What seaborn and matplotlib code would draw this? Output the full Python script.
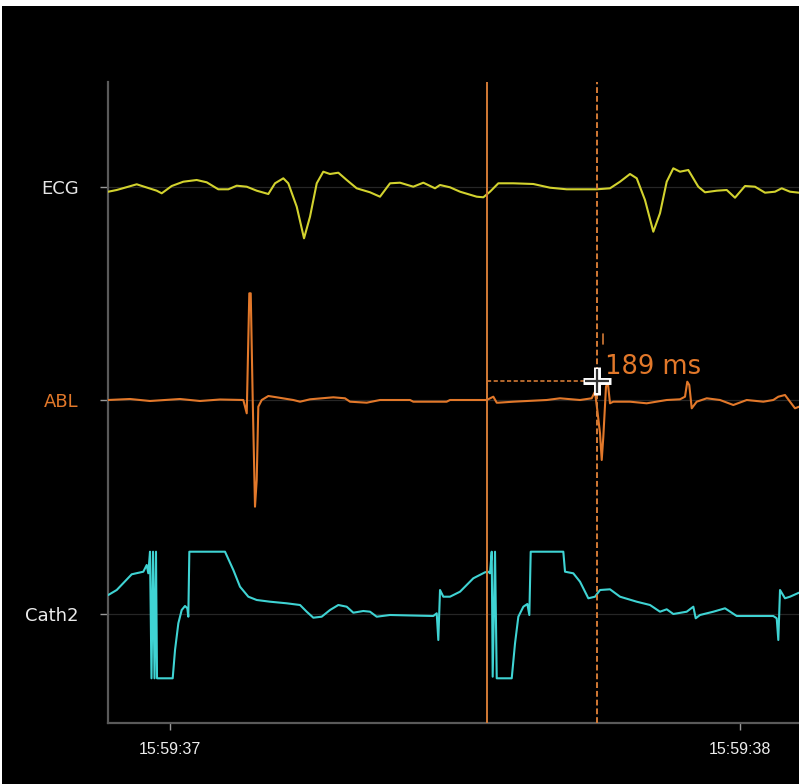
import numpy as np
import pandas as pd
import matplotlib
matplotlib.use("Agg")
import matplotlib.pyplot as plt
from matplotlib.patches import Rectangle
import seaborn as sns

# ---------------- data (time in ms after 15:59:37, amplitude in display units) -------------
ecg_t = [-108.3, -93.5, -58.4, -23.3, -14.6, 3.0, 23.3, 46.8, 64.4, 84.7, 102.3, 117.0, 134.6,
         152.1, 172.5, 184.2, 198.8, 207.5, 222.3, 235.1, 245.6, 257.4, 268.9, 280.7, 295.3,
         310.0, 327.5, 350.9, 368.4, 386.0, 403.5, 426.8, 444.4, 464.9, 473.7, 491.2, 508.8,
         538.1, 549.7, 561.4, 576.0, 602.3, 637.4, 666.7, 696.0, 748.6, 771.9, 789.5, 807.0,
         818.8, 833.3, 847.9, 859.6, 871.4, 883.0, 894.7, 909.3, 926.8, 938.6, 959.1, 976.7,
         991.2, 1008.8, 1026.3, 1043.9, 1061.4, 1073.2, 1087.7, 1103.5]
ecg_v = [-4.7, -3, 2.7, -3.7, -6.3, 1, 5.3, 7, 4.7, -2.3, -2.3, 1.3, 0.3,
         -3.7, -7, 3.7, 8.7, 3.7, -19.7, -51.3, -29.7, 3.7, 15.3, 13, 14.3,
         7, -1.3, -5.3, -9.7, 3.7, 4.3, 0.3, 4.3, -1.3, 2, -0.3, -4.7,
         -9.7, -10.3, -4.7, 3.7, 3.7, 3, -0.7, -2.3, -2.3, -1.3, 5.3, 13,
         8.7, -13, -44.7, -26.3, 5.3, 18.7, 15.3, 17, 0.3, -5.3, -3.7, -3,
         -10.7, 1, 0.3, -5.7, -4.7, -1.3, -4.7, -5.7]

abl_t = [-108.8, -70.2, -35.1, 17.5, 52.6, 87.7, 128.6, 134.6, 139.1, 141.6, 145.1, 149.1,
         152.1, 154.9, 160.9, 172.5, 187.2, 216.3, 228.1, 245.6, 286.5, 307.0, 315.8, 345.1,
         368.4, 421.1, 426.8, 485.3, 491.2, 555.6, 567.2, 573.2, 576.0, 602.3, 660.9, 684.2,
         719.3, 739.8, 745.6, 749.6, 754.4, 757.4, 760.2, 764.9, 767.9, 771.9, 777.7, 807.0,
         836.3, 871.4, 894.7, 903.5, 907.5, 911.0, 915.3, 924.0, 941.6, 964.9, 988.3, 1011.8,
         1040.9, 1058.4, 1067.2, 1078.9, 1087.7, 1096.5, 1103.5]
abl_v = [0, 1, -1, 1, -1, 0.5, 0, -13.3, 106.7, 106.7, 0, -106.7,
         -80, -6.7, 0, 4, 2.7, 0, -1.7, 0.7, 2.7, 1.7, -1.7, -2.7,
         0, 0, -1.7, -1.7, 0, 0, 3.3, -2.7, -2.7, -1.7, 0, 1.7,
         0, 1.7, 8.3, -10, -33.3, -60, -36.7, 13.3, 18.3, -3.3, -1.7, -1.7,
         -3.3, 0, 0.7, 3.3, 18.3, 15, -8.3, -1.7, 1.7, 0, -5, 0,
         -1.7, 0, 3.3, 5, -1.7, -8.3, -6.7]

cath_t = [-108.3, -93.5, -67.2, -46.8, -40.9, -38.1, -35.1, -32.5, -29.8, -27.2, -24.6, -22.8,
          4.7, 8.8, 14.6, 20.5, 26.3, 30.4, 32.1, 33.9, 96.5, 111.1, 122.8, 137.4, 152.1,
          175.4, 204.7, 228.1, 239.8, 251.4, 266.1, 280.7, 295.3, 310.0, 321.6, 339.1, 350.9,
          362.6, 386.0, 461.9, 467.9, 470.7, 473.7, 479.5, 491.2, 508.8, 532.1, 552.6, 558.4,
          561.4, 564.4, 566.1, 570.2, 573.2, 599.5, 605.3, 611.1, 619.9, 626.9, 630.4, 632.8,
          690.0, 693.0, 707.5, 719.3, 733.9, 745.6, 754.4, 771.9, 789.5, 818.8, 842.1, 859.6,
          871.4, 883.0, 906.5, 918.1, 922.3, 929.8, 953.2, 973.7, 994.2, 1058.4, 1064.4,
          1067.2, 1070.2, 1078.9, 1087.7, 1103.5]
cath_v = [19, 24, 39.7, 42.3, 49, 40.7, 62.3, -64.3, 62.3, -64.3, 62.3, -64.3,
          -64.3, -36, -9.3, 4, 8, 5.7, -2.7, 62.3, 62.3, 44, 27.3, 17.3, 14,
          12.3, 10.7, 9, 2.3, -3.7, -2.7, 4, 9, 7.3, 1.3, 3, 2.3,
          -2.7, -1, -2, 0.7, -26, 24, 17.3, 17.3, 22.3, 35.7, 41.7, 42.3,
          40.7, 62.3, -62.7, 62.3, -64.3, -64.3, -29.3, -2.7, 7.3, 10, -1, 62.3,
          62.3, 42.3, 40.7, 32.3, 15.7, 17.3, 24, 24.7, 17.3, 12.3, 9, 2.3,
          4.7, 0, 2.3, 7.3, -4.3, -1, 2.3, 5.7, -2, -2, -4.3,
          -26, 24, 15.7, 17.3, 21.3]

channels = ["ECG", "ABL", "Cath2"]
offsets = [536, 323, 109]
colors = ["#d2d22e", "#e2782a", "#3fd3d3"]
label_colors = ["#e6e6e6", "#e2782a", "#ececec"]
tick_pos = [0, 1000]
tick_labels = ["15:59:37", "15:59:38"]
cursor_a = 556
cursor_b = 749
measure_text = "189 ms"

# ---------------- figure -------------
sns.set_style("dark")
plt.rcParams["font.family"] = ["DejaVu Sans"]

fig = plt.figure(figsize=(7.99, 7.84), dpi=100, facecolor="white")
fig.patches.append(Rectangle((2 / 799, 0), 1, 1 - 6 / 784, transform=fig.transFigure,
                             facecolor="black", edgecolor="none", zorder=-10))
ax = fig.add_axes([108 / 799, 61 / 784, 691 / 799, 641 / 784])
ax.set_facecolor("black")

for i, (name, t, v) in enumerate([("ECG", ecg_t, ecg_v), ("ABL", abl_t, abl_v),
                                   ("Cath2", cath_t, cath_v)]):
    df = pd.DataFrame({"t": t, "v": np.array(v) + offsets[i]})
    sns.lineplot(data=df, x="t", y="v", ax=ax, color=colors[i], lw=1.5,
                 estimator=None, sort=False, zorder=3)
    ax.axhline(offsets[i], color="#262626", lw=0.9, zorder=1)

# cursors
ax.axvline(cursor_a, color="#d37a35", lw=1.4, zorder=4)
ax.axvline(cursor_b, color="#d37a35", lw=1.4, ls=(0, (3, 1.5)), zorder=4)
ymark = offsets[1] + 19
ax.plot([cursor_a, cursor_b], [ymark, ymark], color="#d37a35", lw=1.2,
        ls=(0, (2.5, 1.5)), zorder=4)
ax.plot([759.6, 759.6], [offsets[1] + 56, offsets[1] + 66], color="#d37a35", lw=1.2, zorder=4)
ax.plot([cursor_b], [ymark], marker="+", ms=20, mew=5, color="white", zorder=6)
ax.plot([cursor_b], [ymark], marker="+", ms=17, mew=1.6, color="#333333", zorder=7)
ax.text(763, ymark + 14, measure_text, color="#e2782a", fontsize=18.5, va="center",
        ha="left", zorder=6)

ax.set_xlim(-108.8, 1103.5)
ax.set_ylim(0, 641)
ax.set_xticks(tick_pos)
ax.set_xticklabels(tick_labels, family="Liberation Sans")
ax.set_yticks(offsets)
ax.set_yticklabels(channels)
for lbl, c in zip(ax.get_yticklabels(), label_colors):
    lbl.set_color(c)
ax.tick_params(axis="y", length=6, width=1, color="#9a9a9a", pad=15, labelsize=13, left=True)
ax.tick_params(axis="x", length=5, width=1, color="#9a9a9a", pad=9, labelsize=11.5,
               labelcolor="#ededed", bottom=True)
ax.set_xlabel("")
ax.set_ylabel("")
ax.grid(False)
for s in ["top", "right"]:
    ax.spines[s].set_visible(False)
for s in ["left", "bottom"]:
    ax.spines[s].set_visible(True)
    ax.spines[s].set_color("#5a5a5a")
    ax.spines[s].set_linewidth(1.6)

fig.savefig("out.png", dpi=100, facecolor=fig.get_facecolor())
